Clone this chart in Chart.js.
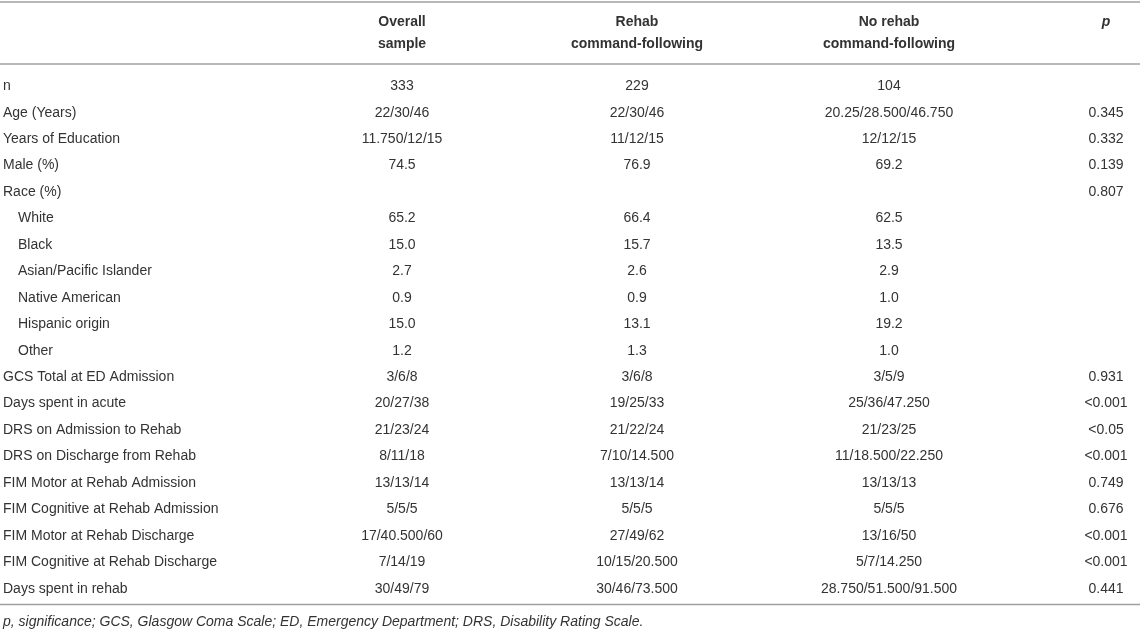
<!DOCTYPE html>
<html lang="en">
<head>
  <meta charset="UTF-8" />
  <title>Patient characteristics by rehab command-following</title>
  <script src="https://cdn.jsdelivr.net/npm/chart.js"></script>
  <style>
    * { box-sizing: border-box; }
    html, body { margin: 0; padding: 0; background: #fff; }
    .wrap { position: relative; width: 1142px; height: 637px; }
  </style>
</head>
<body>
  <div class="wrap"><canvas id="tableChart"></canvas></div>
  <script>
    // table rows (categories)
    const rowLabels = [
      'n', 'Age (Years)', 'Years of Education', 'Male (%)', 'Race (%)',
      'White', 'Black', 'Asian/Pacific Islander', 'Native American', 'Hispanic origin', 'Other',
      'GCS Total at ED Admission', 'Days spent in acute', 'DRS on Admission to Rehab',
      'DRS on Discharge from Rehab', 'FIM Motor at Rehab Admission', 'FIM Cognitive at Rehab Admission',
      'FIM Motor at Rehab Discharge', 'FIM Cognitive at Rehab Discharge', 'Days spent in rehab'
    ];
    // sub-categories listed under Race (%)
    const raceGroups = ['White', 'Black', 'Asian/Pacific Islander', 'Native American', 'Hispanic origin', 'Other'];

    const columnHeads = [['Overall', 'sample'], ['Rehab', 'command-following'], ['No rehab', 'command-following'], ['p']];

    const overall = ['333', '22/30/46', '11.750/12/15', '74.5', '', '65.2', '15.0', '2.7', '0.9', '15.0', '1.2',
      '3/6/8', '20/27/38', '21/23/24', '8/11/18', '13/13/14', '5/5/5', '17/40.500/60', '7/14/19', '30/49/79'];
    const rehab = ['229', '22/30/46', '11/12/15', '76.9', '', '66.4', '15.7', '2.6', '0.9', '13.1', '1.3',
      '3/6/8', '19/25/33', '21/22/24', '7/10/14.500', '13/13/14', '5/5/5', '27/49/62', '10/15/20.500', '30/46/73.500'];
    const noRehab = ['104', '20.25/28.500/46.750', '12/12/15', '69.2', '', '62.5', '13.5', '2.9', '1.0', '19.2', '1.0',
      '3/5/9', '25/36/47.250', '21/23/25', '11/18.500/22.250', '13/13/13', '5/5/5', '13/16/50', '5/7/14.250', '28.750/51.500/91.500'];
    const pValues = ['', '0.345', '0.332', '0.139', '0.807', '', '', '', '', '', '',
      '0.931', '<0.001', '<0.05', '<0.001', '0.749', '0.676', '<0.001', '<0.001', '0.441'];

    const footnote = 'p, significance; GCS, Glasgow Coma Scale; ED, Emergency Department; DRS, Disability Rating Scale.';

    // layout: column centres on the x scale
    const colX = [402, 637, 889, 1106];
    const FONT = '"Liberation Sans", Arial, Helvetica, sans-serif';
    const TEXT = '#333';
    const RULE = '#a0a0a0';

    const columns = [overall, rehab, noRehab, pValues];
    const datasets = columns.map((vals, c) => ({
      label: columnHeads[c].join(' '),
      data: vals.map((v, i) => ({ x: colX[c], y: i, text: v })),
      pointRadius: 0,
      showLine: false
    }));

    const tablePlugin = {
      id: 'tableText',
      afterDraw(chart) {
        const { ctx, chartArea, scales: { x, y } } = chart;
        const top = chartArea.top, bottom = chartArea.bottom;
        ctx.save();

        // rules
        ctx.strokeStyle = RULE;
        ctx.lineWidth = 1.5;
        [2, top - 9, bottom + 2.5].forEach(yy => {
          ctx.beginPath();
          ctx.moveTo(0, yy);
          ctx.lineTo(1140, yy);
          ctx.stroke();
        });

        // header
        ctx.fillStyle = TEXT;
        ctx.textAlign = 'center';
        ctx.textBaseline = 'middle';
        columnHeads.forEach((lines, c) => {
          const cx = x.getPixelForValue(colX[c]);
          ctx.font = (lines[0] === 'p' ? 'italic bold ' : 'bold ') + '14px ' + FONT;
          ctx.fillText(lines[0], cx, top - 51);
          if (lines.length === 2) ctx.fillText(lines[1], cx, top - 29);
        });

        // row labels
        ctx.font = '14px ' + FONT;
        ctx.textAlign = 'left';
        rowLabels.forEach((lab, i) => {
          const indent = raceGroups.includes(lab) ? 18 : 3;
          ctx.fillText(lab, indent, y.getPixelForValue(i));
        });

        // cells
        ctx.textAlign = 'center';
        chart.data.datasets.forEach((ds, d) => {
          chart.getDatasetMeta(d).data.forEach((pt, i) => {
            const t = ds.data[i].text;
            if (t) ctx.fillText(t, pt.x, pt.y);
          });
        });

        // footnote
        ctx.font = 'italic 14px ' + FONT;
        ctx.textAlign = 'left';
        ctx.fillText(footnote, 3, bottom + 20);
        ctx.restore();
      }
    };

    new Chart(document.getElementById('tableChart'), {
      type: 'scatter',
      data: { datasets },
      options: {
        responsive: true,
        maintainAspectRatio: false,
        animation: false,
        events: [],
        layout: { padding: { top: 73, bottom: 35, left: 0, right: 0 } },
        plugins: { legend: { display: false }, tooltip: { enabled: false } },
        scales: {
          x: { type: 'linear', min: 0, max: 1142, display: false },
          y: { type: 'category', labels: rowLabels, offset: true, display: false }
        }
      },
      plugins: [tablePlugin]
    });
  </script>
</body>
</html>
